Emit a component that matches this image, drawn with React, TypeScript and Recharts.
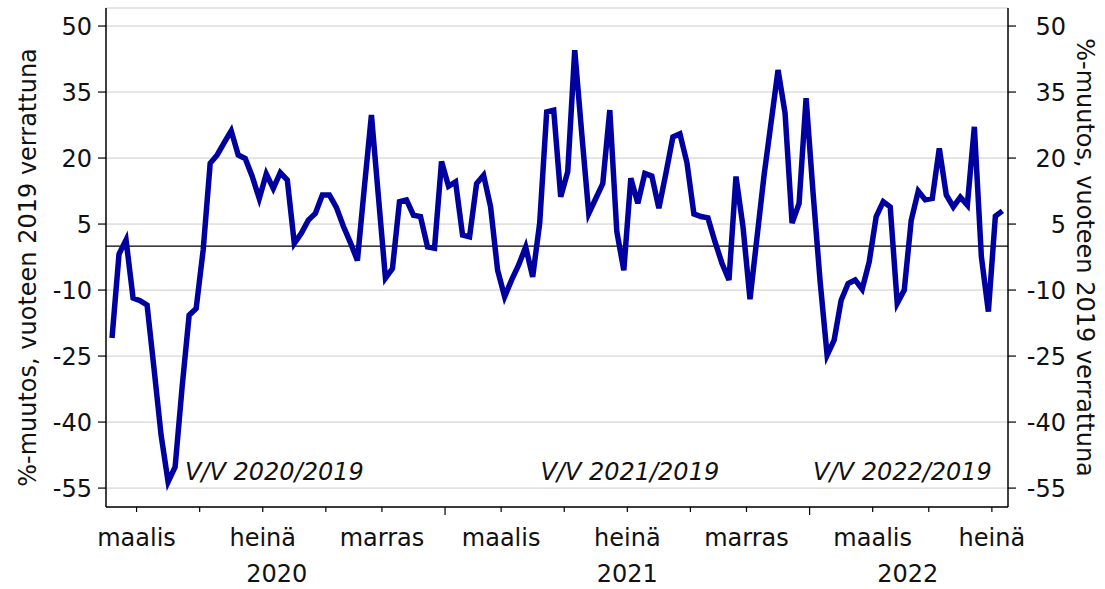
import React from 'react';
import {
    LineChart,
    Line,
    XAxis,
    YAxis,
    CartesianGrid,
    ReferenceLine,
    ReferenceDot,
} from 'recharts';

// Weekly change vs the same week of 2019, %, first week early Feb 2020
const weeklyChange = [
    -20.9, -1.8, 1.4, -11.8, -12.4, -13.4, -28, -43, -53.6, -50.2,
    -32, -15.7, -14.2, -0.9, 18.8, 20.7, 23.5, 26.2, 20.7, 19.9,
    15.8, 10.8, 16.4, 13.1, 16.7, 15, 0.6, 2.9, 5.9, 7.4,
    11.6, 11.6, 8.8, 4.5, 0.8, -3.3, 13.5, 29.8, 11.2, -7.3,
    -5.1, 10.1, 10.5, 7, 6.7, -0.2, -0.5, 19.2, 13.6, 14.6,
    2.5, 2.1, 14.2, 16.1, 8.9, -5.5, -11.5, -7.7, -4.3, -0.2,
    -7, 5.2, 30.5, 30.9, 11.2, 16.9, 44.5, 25.6, 7.4, 10.8,
    14.2, 30.9, 3.3, -5.5, 15.4, 9.7, 16.5, 15.9, 8.6, 16.5,
    24.8, 25.5, 19, 7.3, 6.7, 6.4, 1, -3.9, -7.7, 15.8,
    4.4, -12.1, 2, 16, 28, 40, 30.2, 5.2, 9.7, 33.6,
    12, -8, -24.8, -21.4, -12.3, -8.5, -7.7, -9.8, -3.6, 6.7,
    10.1, 8.9, -13, -10, 5.9, 12.5, 10.5, 10.8, 22.2, 11.6,
    8.9, 11.1, 9.3, 27.1, -2.4, -14.9, 6.8, 8,
];

const yTicks = [-55, -40, -25, -10, 5, 20, 35, 50];

// month boundaries fall between weekly points
const monthTicks = [3.5, 12.5, 21.5, 30.5, 38.5, 47.5, 55.5, 64.5, 73.5, 82.5, 90.5, 99.5, 108.5, 116.5, 125.5];
const labelledMonths = [3.5, 21.5, 38.5, 55.5, 73.5, 90.5, 108.5, 125.5];
const monthNames = ['maalis', 'heinä', 'marras', 'maalis', 'heinä', 'marras', 'maalis', 'heinä'];
const yearStarts = [47.5, 99.5];
const years = ['2020', '2021', '2022'];
const yearCentres = [23.5, 73.5, 113.5];

const periodNotes = ['V/V 2020/2019', 'V/V 2021/2019', 'V/V 2022/2019'];
const notePositions = [10.4, 61.1, 125.5];
const noteLevel = -53.1;

const FONT = '"DejaVu Sans", sans-serif';
const BLUE = '#0000a0';

const chartData = weeklyChange.map((v, i) => ({ i, v }));
const allXTicks = Array.from(new Set([...monthTicks, ...yearCentres])).sort((a, b) => a - b);

const MonthTick = (props: any) => {
    const { x, y, payload } = props;
    const v = payload.value;
    const mi = labelledMonths.indexOf(v);
    const yi = yearCentres.indexOf(v);
    const isMonth = monthTicks.includes(v);
    const long = yearStarts.includes(v);
    return (
        <g>
            {isMonth && (
                <line x1={x} x2={x} y1={y} y2={y + (long ? 8 : 5)} stroke="#000" strokeWidth={1.2} />
            )}
            {mi >= 0 && (
                <text x={x} y={y + 39} textAnchor="middle" fontSize={24} fontFamily={FONT} fill="#111">
                    {monthNames[mi]}
                </text>
            )}
            {yi >= 0 && (
                <text x={x} y={y + 75} textAnchor="middle" fontSize={24} fontFamily={FONT} fill="#111">
                    {years[yi]}
                </text>
            )}
        </g>
    );
};

const RightTick = (props: any) => {
    const { x, y, payload } = props;
    return (
        <text x={x + 50} y={y} dy="0.36em" textAnchor="end" fontSize={24} fontFamily={FONT} fill="#111">
            {payload.value}
        </text>
    );
};

const axisTitle = (side: 'left' | 'right') => (props: any) => {
    const vb = props.viewBox || {};
    const cy = vb.y + vb.height / 2 + (side === 'left' ? 10 : 0);
    const cx = side === 'left' ? vb.x + 28 : vb.x + 77;
    return (
        <text
            x={cx}
            y={cy}
            transform={`rotate(${side === 'left' ? -90 : 90}, ${cx}, ${cy})`}
            textAnchor="middle"
            dominantBaseline="central"
            fontSize={24}
            fontFamily={FONT}
            fill="#111"
        >
            %-muutos, vuoteen 2019 verrattuna
        </text>
    );
};

const Note = (text: string, anchor: 'start' | 'end') => (props: any) => (
    <text
        x={props.cx}
        y={props.cy}
        textAnchor={anchor}
        fontSize={24}
        fontStyle="italic"
        fontFamily={FONT}
        fill="#111"
    >
        {text}
    </text>
);

export default function App() {
    return (
        <div style={{ width: 1105, height: 589, background: '#fff' }}>
            <style>{'body{margin:0}'}</style>
            <LineChart width={1105} height={589} data={chartData} margin={{ top: 8, right: 0, bottom: 0, left: 0 }}>
                <CartesianGrid vertical={false} stroke="#cccccc" yAxisId="left" />
                <XAxis
                    dataKey="i"
                    type="number"
                    domain={[-0.86, 127.8]}
                    allowDataOverflow
                    ticks={allXTicks}
                    interval={0}
                    tick={<MonthTick />}
                    tickLine={false}
                    tickSize={0}
                    tickMargin={0}
                    axisLine={{ stroke: '#000', strokeWidth: 1.5 }}
                    height={82}
                />
                <YAxis
                    yAxisId="left"
                    domain={[-59.3, 54.1]}
                    allowDataOverflow
                    ticks={yTicks}
                    interval={0}
                    width={106}
                    tickSize={8}
                    tickMargin={6}
                    tickLine={{ stroke: '#000', strokeWidth: 1.2 }}
                    axisLine={{ stroke: '#000', strokeWidth: 1.5 }}
                    tick={{ fontSize: 24, fontFamily: FONT, fill: '#111' }}
                    label={axisTitle('left')}
                />
                <YAxis
                    yAxisId="right"
                    orientation="right"
                    domain={[-59.3, 54.1]}
                    allowDataOverflow
                    ticks={yTicks}
                    interval={0}
                    width={97}
                    tickSize={8}
                    tickMargin={0}
                    tickLine={{ stroke: '#000', strokeWidth: 1.2 }}
                    axisLine={{ stroke: '#000', strokeWidth: 1.5 }}
                    tick={<RightTick />}
                    label={axisTitle('right')}
                />
                <ReferenceLine y={0} yAxisId="left" stroke="#000" strokeWidth={1.2} />
                <Line
                    yAxisId="left"
                    type="linear"
                    dataKey="v"
                    stroke={BLUE}
                    strokeWidth={5.5}
                    dot={false}
                    activeDot={false}
                    isAnimationActive={false}
                />
                {periodNotes.map((t, k) => (
                    <ReferenceDot
                        key={t}
                        yAxisId="left"
                        x={notePositions[k]}
                        y={noteLevel}
                        r={0}
                        shape={Note(t, k === periodNotes.length - 1 ? 'end' : 'start')}
                    />
                ))}
            </LineChart>
        </div>
    );
}
